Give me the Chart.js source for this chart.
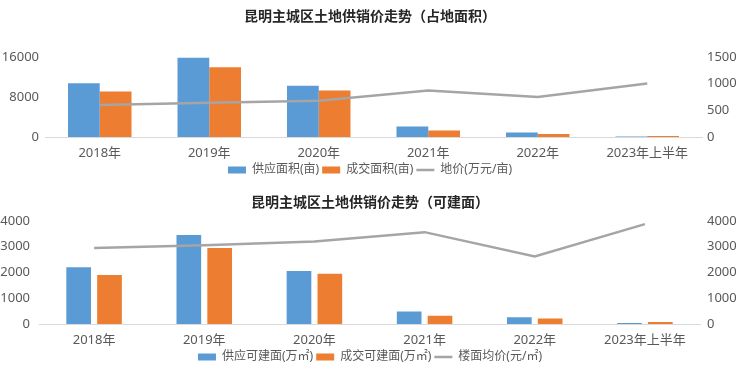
<!DOCTYPE html>
<html><head><meta charset="utf-8">
<script src="https://cdn.jsdelivr.net/npm/chart.js@4"></script>
<style>
html,body{margin:0;padding:0;background:#fff;width:740px;height:373px;overflow:hidden}
.box{position:absolute;left:0;width:740px}
</style></head><body>
<div class="box" style="top:0;height:186px"><canvas id="c1" width="740" height="186"></canvas></div>
<div class="box" style="top:186px;height:187px"><canvas id="c2" width="740" height="187"></canvas></div>
<script>
const categories = ['2018年','2019年','2020年','2021年','2022年','2023年上半年'];

const title1 = '昆明主城区土地供销价走势（占地面积）';
const seriesNames1 = ['供应面积(亩)','成交面积(亩)','地价(万元/亩)'];
const landSupply = [10700,15800,10200,2100,900,100];
const landDeal   = [9100,13900,9300,1300,600,200];
const landPrice  = [600,640,680,870,750,1000];

const title2 = '昆明主城区土地供销价走势（可建面）';
const seriesNames2 = ['供应可建面(万㎡)','成交可建面(万㎡)','楼面均价(元/㎡)'];
const floorSupply = [2200,3450,2050,480,260,40];
const floorDeal   = [1900,2950,1950,320,210,80];
const floorPrice  = [2950,3050,3200,3560,2620,3870];

const FONT = "'Noto Sans', 'Noto Sans CJK SC', sans-serif";
const BLUE = '#5B9BD5', ORANGE = '#ED7D31', GREY = '#A5A5A5', TXT = '#595959';

function build(id, o) {
  return new Chart(document.getElementById(id), {
    data: {
      labels: categories,
      datasets: [
        {type:'bar', label:o.names[0], data:o.a, backgroundColor:BLUE, borderWidth:0, yAxisID:'y', order:1,
         pointStyle:'rect', categoryPercentage:o.catPct, barPercentage:o.barPct},
        {type:'bar', label:o.names[1], data:o.b, backgroundColor:ORANGE, borderWidth:0, yAxisID:'y', order:1,
         pointStyle:'rect', categoryPercentage:o.catPct, barPercentage:o.barPct},
        {type:'line', label:o.names[2], data:o.c, borderColor:GREY, backgroundColor:GREY, borderWidth:2.5,
         pointRadius:0, pointStyle:'line', tension:0, yAxisID:'y1', order:0}
      ]
    },
    options: {
      responsive:false, animation:false, devicePixelRatio:1,
      layout:{padding:{left:0,right:0,top:0,bottom:0}},
      plugins:{
        title:{display:true, text:o.title, color:'#262626', font:{family:FONT,size:14,weight:'bold'},
               padding:{top:9,bottom:o.titleBottom}},
        legend:{position:'bottom',
          labels:{usePointStyle:true, pointStyleWidth:18, boxHeight:7, padding:3, color:TXT,
                  font:{family:FONT,size:12}, sort:(a,b)=>a.datasetIndex-b.datasetIndex}},
        tooltip:{enabled:false}
      },
      scales:{
        x:{grid:{display:false, drawTicks:false}, border:{display:true,color:'#D9D9D9',width:1},
           ticks:{color:TXT, font:{family:FONT,size:13}, padding:8, maxRotation:0, autoSkip:false},
           afterFit:s=>{s.height=o.xh;}},
        y:{position:'left', min:0, max:o.lmax, grid:{display:false, drawTicks:false}, border:{display:false},
           ticks:{stepSize:o.lstep, color:TXT, font:{family:FONT,size:13}, padding:o.lpad, callback:v=>String(v)},
           afterFit:s=>{s.width=o.lw;}},
        y1:{position:'right', min:0, max:o.rmax, grid:{display:false, drawTicks:false}, border:{display:false},
           ticks:{stepSize:o.rstep, color:TXT, font:{family:FONT,size:13}, padding:o.rpad, callback:v=>String(v)},
           afterFit:s=>{s.width=o.rw;}}
      }
    }
  });
}

build('c1', {title:title1, names:seriesNames1, a:landSupply, b:landDeal, c:landPrice,
  catPct:0.58, barPct:1.0, lmax:16000, lstep:8000, rmax:1500, rstep:500,
  lw:45, rw:38, lpad:6, rpad:5, titleBottom:31, xh:24});
build('c2', {title:title2, names:seriesNames2, a:floorSupply, b:floorDeal, c:floorPrice,
  catPct:0.56, barPct:0.8, lmax:4000, lstep:1000, rmax:4000, rstep:1000,
  lw:39, rw:40, lpad:9, rpad:7, titleBottom:9, xh:24});
</script>
</body></html>
